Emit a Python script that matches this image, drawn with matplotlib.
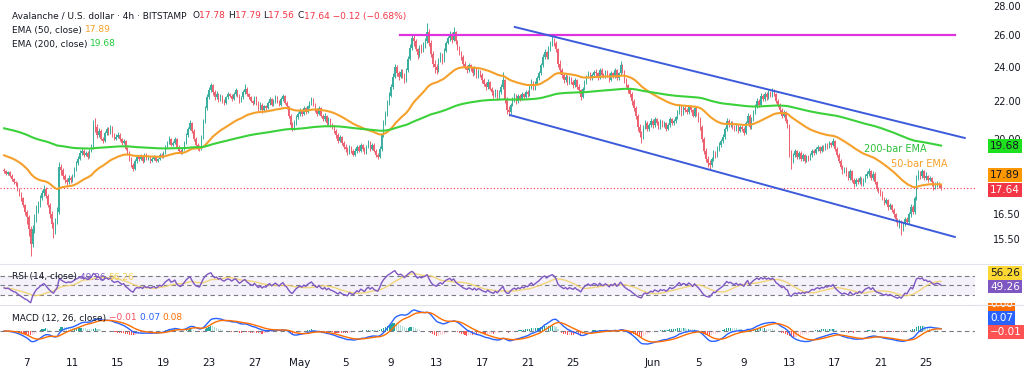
import numpy as np
import pandas as pd
import matplotlib
matplotlib.use("Agg")
import matplotlib.pyplot as plt
import matplotlib.dates as mdates
from matplotlib.patches import Rectangle

# AVAX/USD 4h candles, 2025-04-05 00:00 .. 2025-06-26 08:00 (one row = one day)
closes = [
    18.40, 18.30, 18.35, 18.20, 18.05, 17.90,  # Apr 5
    17.85, 17.60, 17.40, 17.20, 16.90, 16.60,
    16.40, 15.90, 15.30, 15.90, 16.30, 16.70,
    16.90, 17.20, 17.40, 17.60, 17.30, 16.90,
    16.50, 16.10, 15.80, 16.20, 16.60, 18.60,
    18.45, 18.20, 18.00, 17.90, 18.10, 18.00,  # Apr 10
    18.20, 18.50, 18.80, 19.00, 19.30, 19.40,
    19.20, 19.30, 19.10, 19.40, 19.60, 20.70,
    20.60, 20.20, 20.40, 20.00, 19.90, 20.30,
    20.50, 20.30, 20.60, 20.20, 20.00, 20.10,
    20.20, 20.00, 19.80, 19.90, 19.50, 19.30,  # Apr 15
    19.00, 18.70, 18.50, 18.90, 19.10, 19.00,
    19.10, 18.90, 19.20, 19.00, 19.10, 18.90,
    19.00, 19.10, 18.90, 19.00, 19.20, 19.10,
    19.30, 19.60, 19.80, 20.00, 19.70, 19.80,
    20.00, 19.60, 19.40, 19.30, 19.50, 19.80,  # Apr 20
    20.20, 20.50, 20.80, 20.40, 20.00, 19.70,
    19.60, 19.50, 20.10, 20.90, 21.60, 22.20,
    22.60, 22.90, 22.50, 22.20, 22.40, 22.10,
    22.30, 22.00, 21.90, 22.20, 22.40, 22.30,
    22.10, 22.40, 22.60, 22.30, 22.00, 22.20,  # Apr 25
    22.50, 22.70, 22.40, 22.20, 22.00, 21.90,
    22.20, 21.90, 21.60, 21.80, 21.50, 21.70,
    21.60, 21.90, 22.10, 21.80, 22.00, 22.20,
    22.00, 21.80, 22.10, 22.30, 21.90, 21.70,
    21.20, 20.70, 20.50, 20.80, 21.10, 21.30,  # Apr 30
    21.50, 21.30, 21.60, 21.40, 21.70, 21.90,  # May 1
    22.10, 21.80, 21.50, 21.30, 21.60, 21.20,
    21.00, 21.20, 20.80, 21.00, 20.70, 20.60,
    20.40, 20.20, 19.90, 20.10, 19.80, 19.60,
    19.50, 19.30, 19.60, 19.40, 19.20, 19.40,  # May 5
    19.60, 19.40, 19.70, 19.50, 19.30, 19.60,
    19.80, 19.50, 19.70, 19.40, 19.20, 19.10,
    19.50, 20.20, 20.80, 21.30, 21.90, 22.30,
    22.80, 23.40, 24.00, 23.60, 23.40, 23.70,
    23.50, 23.20, 23.80, 24.50, 25.20, 25.80,  # May 10
    25.60, 25.10, 24.70, 25.20, 25.00, 25.40,
    25.60, 26.20, 25.50, 24.80, 24.20, 24.00,
    23.80, 24.40, 24.70, 24.40, 25.00, 25.50,
    25.80, 26.10, 25.70, 26.20, 25.60, 25.20,
    24.90, 24.60, 24.20, 24.00, 23.80, 24.10,  # May 15
    23.90, 23.60, 23.90, 23.40, 23.70, 23.50,
    23.20, 23.00, 22.80, 23.10, 22.70, 22.50,
    22.30, 22.60, 22.20, 22.50, 22.80, 23.20,
    22.10, 21.50, 21.40, 21.80, 22.10, 22.30,
    22.00, 22.30, 22.10, 22.40, 22.20, 22.50,  # May 20
    22.40, 22.80, 23.10, 22.70, 23.00, 23.30,
    23.60, 24.10, 24.60, 24.90, 24.60, 25.10,
    25.40, 25.70, 25.50, 25.10, 24.20, 23.80,
    23.50, 23.20, 23.40, 23.00, 23.30, 23.10,
    22.90, 23.20, 22.80, 22.60, 22.20, 22.70,  # May 25
    23.10, 23.40, 23.60, 23.30, 23.50, 23.70,
    23.60, 23.30, 23.80, 23.50, 23.40, 23.70,
    23.50, 23.20, 23.60, 23.40, 23.80, 23.30,
    23.60, 24.10, 23.70, 23.20, 22.90, 22.60,
    22.40, 22.00, 21.60, 21.20, 20.60, 20.30,  # May 30
    20.10, 20.60, 20.80, 20.50, 20.70, 20.90,
    20.70, 21.00, 20.80, 20.60, 20.90, 20.70,  # Jun 1
    20.80, 20.50, 20.70, 21.00, 20.80, 20.90,
    21.10, 21.40, 21.70, 21.30, 21.60, 21.50,
    21.40, 21.70, 21.50, 21.20, 21.60, 21.30,
    21.00, 20.60, 20.00, 19.40, 19.00, 18.80,  # Jun 5
    18.70, 19.00, 19.30, 19.20, 19.50, 19.70,
    19.90, 20.10, 20.50, 20.90, 20.70, 20.80,
    20.60, 20.50, 20.70, 20.40, 20.60, 20.50,
    20.30, 20.80, 21.20, 20.60, 21.00, 21.40,
    21.70, 22.00, 21.80, 22.30, 22.10, 22.40,  # Jun 10
    22.20, 22.50, 22.30, 22.60, 22.40, 22.00,
    21.80, 21.50, 21.20, 21.40, 20.90, 20.70,
    19.30, 18.90, 19.20, 19.40, 19.10, 19.30,
    19.00, 19.20, 18.90, 19.10, 19.00, 19.20,
    19.40, 19.30, 19.50, 19.60, 19.40, 19.60,  # Jun 15
    19.50, 19.70, 19.60, 19.80, 19.70, 19.90,
    19.50, 19.20, 18.90, 18.60, 18.40, 18.50,
    18.30, 18.10, 18.40, 18.00, 17.80, 18.00,
    17.90, 18.10, 17.80, 18.00, 18.20, 18.30,
    18.40, 18.10, 18.30, 17.90, 17.60, 17.50,  # Jun 20
    17.40, 17.20, 17.00, 17.10, 16.80, 16.90,
    16.70, 16.50, 16.30, 16.10, 16.20, 15.90,
    16.10, 16.30, 16.20, 16.50, 16.80, 16.60,
    17.20, 18.10, 18.30, 18.20, 18.40, 18.10,
    18.20, 18.00, 18.10, 17.90, 17.70, 17.78,  # Jun 25
    17.85, 17.78, 17.64,
]
highs = [
    18.55, 18.48, 18.42, 18.40, 18.26, 18.10,
    17.98, 17.92, 17.66, 17.48, 17.25, 16.96,
    16.70, 16.48, 16.00, 16.05, 16.50, 16.90,
    17.05, 17.32, 17.55, 17.78, 17.68, 17.38,
    16.98, 16.62, 16.20, 16.35, 16.80, 18.85,
    18.75, 18.55, 18.30, 18.10, 18.22, 18.20,
    18.30, 18.60, 18.90, 19.12, 19.45, 19.55,
    19.48, 19.40, 19.38, 19.50, 19.72, 20.95,
    21.05, 20.75, 20.55, 20.48, 20.10, 20.40,
    20.62, 20.58, 20.72, 20.65, 20.30, 20.22,
    20.32, 20.26, 20.05, 20.00, 19.95, 19.58,
    19.38, 19.08, 18.80, 18.98, 19.20, 19.18,
    19.22, 19.16, 19.30, 19.26, 19.20, 19.15,
    19.08, 19.18, 19.15, 19.06, 19.28, 19.26,
    19.38, 19.70, 19.90, 20.12, 20.05, 19.90,
    20.10, 20.05, 19.68, 19.48, 19.60, 19.90,
    20.30, 20.62, 20.95, 20.85, 20.48, 20.08,
    19.78, 19.70, 20.20, 21.00, 21.75, 22.40,
    22.80, 23.05, 22.95, 22.60, 22.55, 22.45,
    22.40, 22.35, 22.10, 22.30, 22.52, 22.48,
    22.38, 22.50, 22.75, 22.65, 22.40, 22.30,
    22.60, 22.95, 22.78, 22.48, 22.30, 22.08,
    22.30, 22.28, 21.98, 21.92, 21.88, 21.80,
    21.78, 22.00, 22.25, 22.15, 22.10, 22.32,
    22.28, 22.08, 22.20, 22.42, 22.35, 22.00,
    21.75, 21.30, 20.85, 20.95, 21.22, 21.40,
    21.62, 21.58, 21.72, 21.68, 21.80, 22.00,
    22.25, 22.18, 21.90, 21.60, 21.70, 21.68,
    21.30, 21.32, 21.25, 21.10, 21.08, 20.80,
    20.68, 20.50, 20.28, 20.20, 20.15, 19.88,
    19.72, 19.58, 19.70, 19.65, 19.50, 19.52,
    19.70, 19.68, 19.80, 19.75, 19.58, 19.70,
    19.92, 19.88, 19.80, 19.78, 19.48, 19.30,
    19.62, 20.30, 20.95, 21.45, 22.05, 22.50,
    22.95, 23.60, 24.20, 24.10, 23.75, 23.85,
    23.85, 23.60, 23.95, 24.65, 25.40, 26.00,
    26.00, 25.75, 25.20, 25.35, 25.40, 25.55,
    25.80, 26.85, 26.40, 25.70, 24.95, 24.40,
    24.15, 24.55, 24.90, 24.85, 25.15, 25.65,
    25.95, 26.30, 26.20, 26.55, 26.30, 25.70,
    25.30, 25.00, 24.70, 24.35, 24.10, 24.25,
    24.20, 24.00, 24.05, 23.95, 23.85, 23.80,
    23.60, 23.30, 23.10, 23.25, 23.15, 22.80,
    22.60, 22.70, 22.65, 22.62, 22.95, 23.70,
    23.25, 22.20, 21.70, 21.90, 22.20, 22.45,
    22.40, 22.40, 22.38, 22.50, 22.48, 22.60,
    22.62, 22.90, 23.25, 23.15, 23.12, 23.45,
    23.75, 24.25, 24.80, 25.10, 25.00, 25.30,
    25.60, 26.00, 25.85, 25.60, 25.20, 24.40,
    23.95, 23.65, 23.55, 23.48, 23.42, 23.40,
    23.20, 23.30, 23.28, 22.95, 22.70, 22.80,
    23.22, 23.52, 23.75, 23.70, 23.62, 23.82,
    23.85, 23.70, 23.95, 23.90, 23.60, 23.82,
    23.80, 23.60, 23.72, 23.70, 23.92, 23.88,
    23.70, 24.35, 24.20, 23.80, 23.30, 23.00,
    22.70, 22.50, 22.10, 21.75, 21.30, 20.75,
    20.40, 20.70, 20.95, 20.90, 20.80, 21.05,
    21.00, 21.12, 21.08, 20.90, 21.00, 20.98,
    20.92, 20.88, 20.80, 21.10, 21.06, 21.00,
    21.20, 21.52, 21.85, 21.80, 21.72, 21.70,
    21.62, 21.80, 21.78, 21.58, 21.70, 21.68,
    21.40, 21.10, 20.70, 20.10, 19.55, 19.15,
    18.95, 19.10, 19.42, 19.40, 19.62, 19.82,
    20.00, 20.22, 20.62, 21.05, 21.00, 20.92,
    20.90, 20.72, 20.80, 20.78, 20.70, 20.68,
    20.60, 20.92, 21.35, 21.30, 21.10, 21.52,
    21.85, 22.15, 22.10, 22.45, 22.40, 22.50,
    22.50, 22.62, 22.58, 22.75, 22.70, 22.45,
    22.10, 21.90, 21.60, 21.50, 21.45, 21.00,
    20.75, 19.45, 19.30, 19.50, 19.45, 19.40,
    19.40, 19.30, 19.25, 19.20, 19.18, 19.30,
    19.50, 19.48, 19.60, 19.70, 19.65, 19.70,
    19.68, 19.80, 19.78, 19.90, 19.85, 20.05,
    19.95, 19.60, 19.30, 19.00, 18.70, 18.62,
    18.60, 18.40, 18.50, 18.45, 18.10, 18.10,
    18.10, 18.20, 18.15, 18.10, 18.30, 18.42,
    18.55, 18.45, 18.40, 18.35, 17.95, 17.70,
    17.60, 17.50, 17.25, 17.20, 17.15, 17.00,
    16.95, 16.75, 16.55, 16.35, 16.30, 16.25,
    16.20, 16.40, 16.38, 16.60, 16.95, 16.88,
    17.30, 18.25, 18.45, 18.40, 18.50, 18.45,
    18.35, 18.25, 18.20, 18.15, 17.95, 17.90,
    17.95, 17.90, 17.79,
]
lows = [
    18.32, 18.22, 18.25, 18.12, 17.98, 17.84,
    17.75, 17.52, 17.30, 17.05, 16.80, 16.48,
    16.10, 15.60, 14.85, 15.20, 15.75, 16.20,
    16.55, 16.80, 17.10, 17.30, 17.20, 16.80,
    16.35, 15.95, 15.55, 15.70, 16.10, 16.50,
    18.25, 18.05, 17.85, 17.75, 17.82, 17.88,
    17.92, 18.12, 18.42, 18.70, 18.92, 19.18,
    19.10, 19.12, 19.00, 19.05, 19.32, 19.50,
    20.35, 20.05, 20.10, 19.92, 19.78, 19.85,
    20.20, 20.20, 20.25, 20.10, 19.92, 19.94,
    20.02, 19.90, 19.70, 19.72, 19.42, 19.20,
    18.90, 18.60, 18.40, 18.45, 18.82, 18.90,
    18.92, 18.82, 18.85, 18.92, 18.95, 18.82,
    18.84, 18.95, 18.84, 18.86, 18.96, 19.02,
    19.05, 19.25, 19.52, 19.72, 19.62, 19.64,
    19.72, 19.52, 19.32, 19.22, 19.25, 19.45,
    19.75, 20.10, 20.42, 20.30, 19.90, 19.60,
    19.45, 19.40, 19.45, 20.00, 20.80, 21.50,
    22.10, 22.50, 22.35, 22.05, 22.10, 21.95,
    22.00, 21.88, 21.78, 21.85, 22.12, 22.20,
    22.00, 22.05, 22.30, 22.20, 21.90, 21.95,
    22.12, 22.40, 22.30, 22.10, 21.92, 21.80,
    21.85, 21.80, 21.45, 21.50, 21.35, 21.42,
    21.50, 21.55, 21.80, 21.70, 21.72, 21.90,
    21.90, 21.70, 21.75, 22.00, 21.82, 21.55,
    21.05, 20.55, 20.40, 20.42, 20.70, 21.00,
    21.20, 21.20, 21.25, 21.30, 21.35, 21.60,
    21.80, 21.70, 21.40, 21.18, 21.25, 21.10,
    20.90, 20.92, 20.70, 20.72, 20.62, 20.48,
    20.30, 20.05, 19.80, 19.82, 19.70, 19.48,
    19.35, 19.20, 19.25, 19.30, 19.12, 19.15,
    19.30, 19.32, 19.35, 19.40, 19.22, 19.25,
    19.55, 19.40, 19.42, 19.32, 19.10, 18.98,
    19.02, 19.40, 20.10, 20.70, 21.20, 21.80,
    22.20, 22.70, 23.30, 23.45, 23.20, 23.30,
    23.30, 23.05, 23.10, 23.70, 24.40, 25.05,
    25.30, 24.95, 24.50, 24.60, 24.85, 24.90,
    25.20, 25.50, 25.30, 24.60, 24.00, 23.60,
    23.55, 23.70, 24.30, 24.20, 24.30, 24.90,
    25.40, 25.65, 25.50, 25.60, 25.40, 25.05,
    24.70, 24.40, 24.05, 23.85, 23.60, 23.70,
    23.75, 23.45, 23.50, 23.30, 23.35, 23.38,
    23.05, 22.85, 22.65, 22.70, 22.60, 22.35,
    22.15, 22.20, 22.05, 22.10, 22.40, 22.70,
    21.90, 21.30, 21.20, 21.30, 21.70, 21.95,
    21.85, 21.90, 22.00, 22.05, 22.10, 22.15,
    22.25, 22.30, 22.70, 22.60, 22.65, 22.90,
    23.20, 23.50, 24.00, 24.45, 24.45, 24.50,
    25.00, 25.30, 25.30, 24.90, 24.00, 23.55,
    23.35, 23.05, 23.10, 22.90, 22.95, 22.98,
    22.75, 22.80, 22.70, 22.45, 22.05, 22.15,
    22.60, 23.00, 23.30, 23.20, 23.20, 23.40,
    23.45, 23.20, 23.25, 23.40, 23.30, 23.30,
    23.40, 23.10, 23.12, 23.30, 23.35, 23.20,
    23.20, 23.50, 23.60, 23.05, 22.80, 22.45,
    22.20, 21.80, 21.45, 21.00, 20.40, 20.10,
    19.80, 20.00, 20.50, 20.40, 20.40, 20.60,
    20.55, 20.62, 20.70, 20.48, 20.50, 20.60,
    20.60, 20.40, 20.42, 20.62, 20.70, 20.72,
    20.80, 21.00, 21.30, 21.20, 21.22, 21.40,
    21.30, 21.30, 21.40, 21.10, 21.15, 21.20,
    20.85, 20.45, 19.85, 19.25, 18.85, 18.60,
    18.50, 18.60, 18.90, 19.05, 19.10, 19.40,
    19.60, 19.80, 20.00, 20.40, 20.60, 20.62,
    20.50, 20.38, 20.40, 20.30, 20.35, 20.40,
    20.20, 20.25, 20.70, 20.50, 20.50, 20.90,
    21.30, 21.60, 21.65, 21.70, 22.00, 22.00,
    22.05, 22.10, 22.20, 22.20, 22.30, 21.90,
    21.65, 21.35, 21.05, 21.10, 20.80, 20.55,
    19.10, 18.50, 18.80, 19.10, 19.00, 19.00,
    18.90, 18.90, 18.80, 18.85, 18.90, 18.92,
    19.10, 19.20, 19.22, 19.40, 19.30, 19.35,
    19.40, 19.42, 19.50, 19.55, 19.60, 19.62,
    19.40, 19.10, 18.80, 18.50, 18.30, 18.32,
    18.20, 18.00, 18.02, 17.90, 17.70, 17.72,
    17.80, 17.82, 17.72, 17.75, 17.92, 18.10,
    18.20, 18.00, 18.02, 17.80, 17.50, 17.40,
    17.30, 17.10, 16.90, 16.92, 16.70, 16.72,
    16.60, 16.40, 16.20, 16.00, 15.95, 15.65,
    15.80, 16.00, 16.10, 16.12, 16.40, 16.50,
    16.50, 17.10, 18.00, 18.05, 18.10, 18.00,
    18.00, 17.90, 17.95, 17.75, 17.55, 17.60,
    17.70, 17.65, 17.56,
]
first_open = 18.45
ema50_start = 19.20   # EMA values at the first visible bar
ema200_start = 20.55
rsi_start_gain, rsi_start_loss = 0.09, 0.11   # RSI about 45 at the first bar

resist_dates = ["2025-05-09 19:00", "2025-06-27 13:00"]
resist_prices = [26.0, 26.0]
upper_dates = ["2025-05-19 21:00", "2025-06-28 10:00"]
upper_prices = [26.55, 20.03]
lower_dates = ["2025-05-19 11:00", "2025-06-27 13:00"]
lower_prices = [21.23, 15.58]

price_ticks = [15.5, 16.5, 20, 22, 24, 26, 28]
date_ticks = ["2025-04-07", "2025-04-11", "2025-04-15", "2025-04-19", "2025-04-23",
              "2025-04-27", "2025-05-01", "2025-05-05", "2025-05-09", "2025-05-13",
              "2025-05-17", "2025-05-21", "2025-05-25", "2025-06-01", "2025-06-05",
              "2025-06-09", "2025-06-13", "2025-06-17", "2025-06-21", "2025-06-25"]
date_labels = ["7", "11", "15", "19", "23", "27", "May", "5", "9", "13", "17", "21",
               "25", "Jun", "5", "9", "13", "17", "21", "25"]

DARK = "#131722"
RED = "#F23645"
UPC, DNC = "#3AAE9F", "#EC6271"
ORANGE, GREEN = "#F5A02A", "#3BD13B"

c = np.array(closes)
o = np.array([first_open] + closes[:-1])
h = np.array(highs)
l = np.array(lows)
times = pd.date_range("2025-04-05 00:00", periods=len(c), freq="4h")
t = mdates.date2num(times)
s = pd.Series(c)

ema50 = pd.Series([ema50_start] + closes).ewm(span=50, adjust=False).mean().values[1:]
ema200 = pd.Series([ema200_start] + closes).ewm(span=200, adjust=False).mean().values[1:]

d = s.diff()
gain = d.clip(lower=0).fillna(rsi_start_gain)
loss = (-d.clip(upper=0)).fillna(rsi_start_loss)
ag = gain.ewm(alpha=1 / 14, adjust=False).mean()
al = loss.ewm(alpha=1 / 14, adjust=False).mean()
rsi = 100 - 100 / (1 + ag / al)
rsi_ma = rsi.rolling(14, min_periods=1).mean()

macd = s.ewm(span=12, adjust=False).mean() - s.ewm(span=26, adjust=False).mean()
signal = macd.ewm(span=9, adjust=False).mean()
hist = (macd - signal).values

W, H = 1024, 376
fig = plt.figure(figsize=(W / 100, H / 100), dpi=100)
fig.patch.set_facecolor("white")
right = 975 / W


def box(top, bottom):
    return [0, 1 - bottom / H, right, (bottom - top) / H]


ax = fig.add_axes(box(2, 262))
ax_r = fig.add_axes(box(265, 304), sharex=ax)
ax_m = fig.add_axes(box(305, 348), sharex=ax)

x0 = mdates.date2num(pd.Timestamp("2025-05-01")) - 300 / 11.38
x1 = x0 + 975 / 11.38

# candles
up = c >= o
cols = np.where(up, UPC, DNC)
ax.vlines(t, l, h, colors=cols, lw=0.7, zorder=2)
body = np.maximum(np.abs(c - o), 0.02)
ax.bar(t, body, bottom=np.minimum(o, c), width=0.11, color=cols, linewidth=0, zorder=2)

ax.plot(t, ema50, color=ORANGE, lw=1.5, zorder=3)
ax.plot(t, ema200, color=GREEN, lw=1.5, zorder=3)
ax.plot(mdates.date2num(pd.to_datetime(resist_dates)), resist_prices, color="#E033E0", lw=1.6, zorder=4)
ax.plot(mdates.date2num(pd.to_datetime(upper_dates)), upper_prices, color="#3C5BDA", lw=1.4, zorder=4)
ax.plot(mdates.date2num(pd.to_datetime(lower_dates)), lower_prices, color="#3C5BDA", lw=1.4, zorder=4)
ax.axhline(c[-1], color=RED, lw=0.8, ls=(0, (1, 2)), zorder=1)

ax.text(mdates.date2num(pd.Timestamp("2025-06-22 07:00")), 19.48, "200-bar EMA",
        color="#2DBF3A", fontsize=7, ha="center", va="center")
ax.text(mdates.date2num(pd.Timestamp("2025-06-24 09:00")), 18.75, "50-bar EMA",
        color=ORANGE, fontsize=7, ha="center", va="center")

ax.set_yscale("log")
ax.set_ylim(14.62, 28.29)
ax.set_xlim(x0, x1)
ax.yaxis.tick_right()
ax.set_yticks(price_ticks)
ax.set_yticklabels(["%.2f" % v for v in price_ticks])
ax.yaxis.set_minor_locator(matplotlib.ticker.NullLocator())
ax.tick_params(axis="y", length=0, pad=13, labelsize=7, labelcolor=DARK)
ax.tick_params(axis="x", bottom=False, labelbottom=False)
for sp in ax.spines.values():
    sp.set_visible(False)

# RSI
ax_r.fill_between([x0, x1], 30, 70, color="#7E57C2", alpha=0.08, lw=0)
for lvl in (70, 50, 30):
    ax_r.axhline(lvl, color="#787B86", lw=0.8, ls=(0, (4, 3)))
ax_r.plot(t, rsi_ma, color="#F2CF5B", lw=1.0, alpha=0.8)
ax_r.plot(t, rsi, color="#7E57C2", lw=1.0)
ax_r.set_ylim(11, 93)

# MACD
hcol = []
for i, v in enumerate(hist):
    prev = hist[i - 1] if i else 0
    if v >= 0:
        hcol.append("#26A69A" if v >= prev else "#B2DFDB")
    else:
        hcol.append("#FF5252" if v < prev else "#FFCDD2")
ax_m.bar(t, hist, width=0.1, color=hcol, linewidth=0)
ax_m.axhline(0, color="#787B86", lw=0.8, ls=(0, (4, 3)))
ax_m.plot(t, macd, color="#2962FF", lw=1.0)
ax_m.plot(t, signal, color="#FF6D00", lw=1.0)
hi = macd.max() * 26 / 21
ax_m.set_ylim(-hi * 0.395 / 0.605, hi)

for a in (ax_r, ax_m):
    a.set_yticks([])
    for sp in a.spines.values():
        sp.set_visible(False)
ax_r.tick_params(axis="x", bottom=False, labelbottom=False)
ax_m.set_xticks(mdates.date2num(pd.to_datetime(date_ticks)))
ax_m.set_xticklabels(date_labels)
ax_m.tick_params(axis="x", length=0, pad=7, labelsize=7.5, labelcolor=DARK)
ax_m.set_xlim(x0, x1)

# panel separators
for yy in (263.5, 304.5):
    fig.add_artist(plt.Line2D([0, 1], [1 - yy / H] * 2, color="#E0E3EB", lw=0.8))


def tag(ypix, text, bg, fg):
    fig.text(990 / W, 1 - ypix / H, text, fontsize=7.5, color=fg, va="center", ha="left",
             bbox=dict(boxstyle="square,pad=0.2", fc=bg, ec="none"), zorder=5)


tag(146, "19.68", "#1FE01F", DARK)
tag(175, "17.89", "#FF9800", DARK)
tag(190, "17.64", RED, "white")
tag(273, "56.26", "#FDD835", DARK)
tag(287, "49.26", "#7E57C2", "white")
tag(304, "0.08", "#FF6D00", "white")
tag(318, "0.07", "#2962FF", "white")
tag(332, "\u22120.01", "#FF5252", "white")
fig.add_artist(Rectangle((975 / W, 1 - 303 / H), 49 / W, 10 / H, transform=fig.transFigure,
                         fc="white", ec="none", zorder=6))
fig.add_artist(plt.Line2D([975 / W, 1], [1 - 304.5 / H] * 2, color="#E0E3EB", lw=0.8, zorder=7))

renderer = fig.canvas.get_renderer()


def line(xpix, ypix, pieces, size=6.5):
    x = xpix / W
    for txt, col in pieces:
        tt = fig.text(x, 1 - ypix / H, txt, color=col, fontsize=size, va="center", ha="left", zorder=6)
        x += tt.get_window_extent(renderer).width / W


line(12, 16, [("Avalanche / U.S. dollar \u00b7 4h \u00b7 BITSTAMP  ", DARK), ("O", DARK), ("17.78 ", RED),
              ("H", DARK), ("17.79 ", RED), ("L", DARK), ("17.56 ", RED), ("C", DARK),
              ("17.64 \u22120.12 (\u22120.68%)", RED)])
line(12, 30, [("EMA (50, close) ", DARK), ("17.89", ORANGE)])
line(12, 44, [("EMA (200, close) ", DARK), ("19.68", "#22C93A")])
line(12, 277, [("RSI (14, close) ", DARK), ("49.26 ", "#7E57C2"), ("56.26", "#F2CF5B")])
line(12, 318, [("MACD (12, 26, close) ", DARK), ("\u22120.01 ", "#F7525F"), ("0.07 ", "#2962FF"),
               ("0.08", "#FF6D00")])

fig.savefig("out.png", dpi=100, facecolor="white")
